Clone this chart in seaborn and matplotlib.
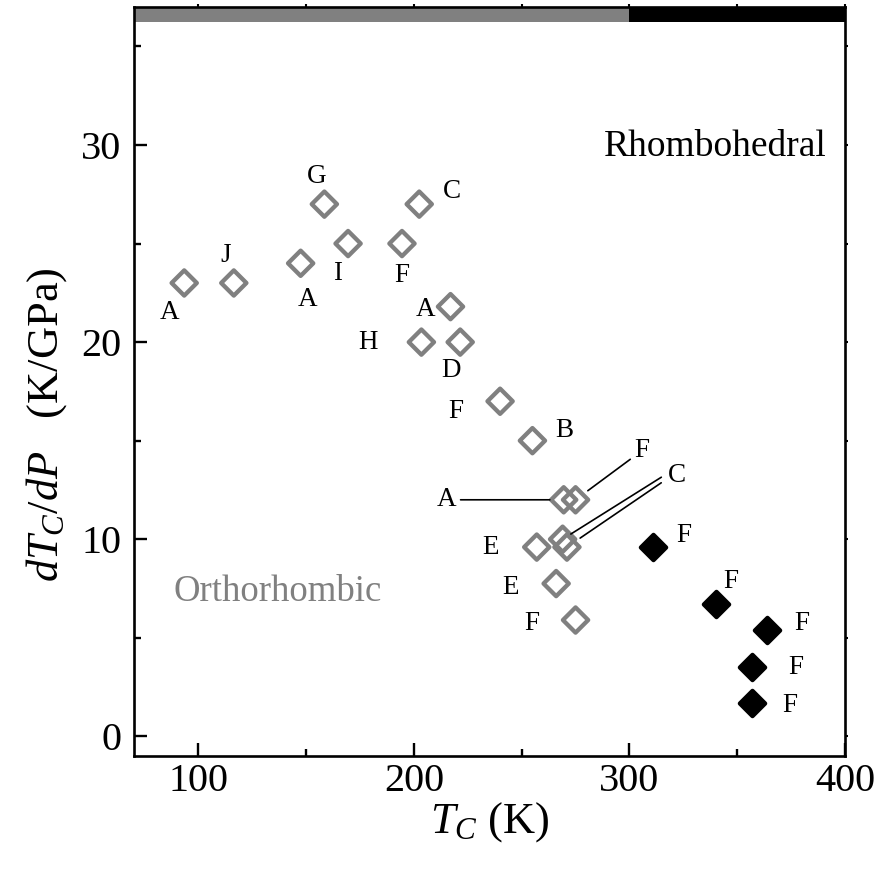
import matplotlib
matplotlib.use("Agg")
import matplotlib.pyplot as plt
import pandas as pd
import seaborn as sns

# Orthorhombic compounds (open diamonds): Curie temperature and pressure coefficient
ortho_tc = [93.5, 116.5, 147.5, 158.5, 169.5, 194.5, 202.5, 217.0, 203.5, 221.5,
            240.0, 255.0, 269.5, 275.0, 269.0, 271.0, 257.0, 266.0, 275.0]
ortho_slope = [23.0, 23.0, 24.0, 27.0, 25.0, 25.0, 27.0, 21.8, 20.0, 20.0,
               17.0, 15.0, 12.0, 12.0, 10.0, 9.6, 9.6, 7.75, 5.9]
ortho_ref = ["A", "J", "A", "G", "I", "F", "C", "A", "H", "D",
             "F", "B", "A", "F", "C", "C", "E", "E", "F"]

# Rhombohedral compounds (filled diamonds)
rhombo_tc = [311.0, 340.0, 364.0, 357.0, 357.0]
rhombo_slope = [9.6, 6.7, 5.4, 3.5, 1.7]
rhombo_ref = ["F", "F", "F", "F", "F"]

x_ticks = [100, 200, 300, 400]
y_ticks = [0, 10, 20, 30]
phase_boundary_tc = 300

GRAY = "#808080"

sns.set_theme(style="white")
plt.rcParams["font.family"] = ["Liberation Serif", "DejaVu Serif"]
plt.rcParams["mathtext.fontset"] = "custom"
plt.rcParams["mathtext.rm"] = "Liberation Serif"
plt.rcParams["mathtext.it"] = "Liberation Serif:italic"
plt.rcParams["mathtext.bf"] = "Liberation Serif:bold"
for key in ("text.color", "axes.labelcolor", "xtick.color", "ytick.color"):
    plt.rcParams[key] = "black"

ortho = pd.DataFrame({"Tc": ortho_tc, "slope": ortho_slope, "ref": ortho_ref})
rhombo = pd.DataFrame({"Tc": rhombo_tc, "slope": rhombo_slope, "ref": rhombo_ref})

fig = plt.figure(figsize=(8.78, 8.69), dpi=100)
ax = fig.add_axes([0.1521, 0.1300, 0.8104, 0.8619])

xmin, xmax = 70, 400
ymin, ymax = -1, 37
ax.set_xlim(xmin, xmax)
ax.set_ylim(ymin, ymax)

# phase bar along the top edge
bar_bottom = 36.24
ax.fill_between([xmin, phase_boundary_tc], bar_bottom, ymax, color=GRAY, lw=0, zorder=1)
ax.fill_between([phase_boundary_tc, xmax], bar_bottom, ymax, color="black", lw=0, zorder=1)

sns.scatterplot(data=ortho, x="Tc", y="slope", ax=ax, marker="D", s=165,
                facecolor="none", edgecolor=GRAY, linewidth=3.1, zorder=3, legend=False)
sns.scatterplot(data=rhombo, x="Tc", y="slope", ax=ax, marker="D", s=165,
                color="black", edgecolor="black", linewidth=3.1, zorder=3, legend=False)

lab_fs = 19.5
# text offsets in pixels from each marker
ortho_offsets = [(-15, -30), (-8, 27), (7, -36), (-8, 28), (-11, -30), (0, -32),
                 (33, 13), (-25, -3), (-53, 0), (-9, -28), (-44, -10), (32, 10),
                 None, None, None, None, (-46, 0), (-46, -4), (-44, -3)]
rhombo_offsets = [(31, 12), (15, 23), (34, 6), (43, 0), (37, -3)]

for tc, sl, ref, off in zip(ortho_tc, ortho_slope, ortho_ref, ortho_offsets):
    if off is None:
        continue
    ax.annotate(ref, (tc, sl), xytext=off, textcoords="offset pixels",
                ha="center", va="center", fontsize=lab_fs, zorder=4)
for tc, sl, ref, off in zip(rhombo_tc, rhombo_slope, rhombo_ref, rhombo_offsets):
    ax.annotate(ref, (tc, sl), xytext=off, textcoords="offset pixels",
                ha="center", va="center", fontsize=lab_fs, zorder=4)

lead = dict(arrowstyle="-", color="black", lw=1.2)
# crowded points near 270 K get leader lines
ax.annotate(ortho_ref[12], (ortho_tc[12], ortho_slope[12]), xytext=(-117.6, 0),
            textcoords="offset pixels", ha="center", va="center", fontsize=lab_fs,
            arrowprops=dict(lead, shrinkA=1, shrinkB=10))
ax.annotate(ortho_ref[13], (ortho_tc[13], ortho_slope[13]), xytext=(66.6, 49.3),
            textcoords="offset pixels", ha="center", va="center", fontsize=lab_fs,
            arrowprops=dict(lead, shrinkA=1, shrinkB=11))
ax.annotate(ortho_ref[14], (ortho_tc[14], ortho_slope[14]), xytext=(114.4, 63.3),
            textcoords="offset pixels", ha="center", va="center", fontsize=lab_fs)
ax.annotate("", (ortho_tc[14], ortho_slope[14]), xytext=(98.7, 62),
            textcoords="offset pixels", arrowprops=dict(lead, shrinkA=0, shrinkB=7))
ax.annotate("", (ortho_tc[15], ortho_slope[15]), xytext=(94.3, 64.3),
            textcoords="offset pixels", arrowprops=dict(lead, shrinkA=0, shrinkB=11.5))

# phase names
ax.text(0.974, 0.801, "Rhombohedral", transform=ax.transAxes, ha="right",
        va="baseline", fontsize=27, color="black")
ax.text(0.056, 0.207, "Orthorhombic", transform=ax.transAxes, ha="left",
        va="baseline", fontsize=26.5, color=GRAY)

# axes styling
for sp in ax.spines.values():
    sp.set_visible(True)
    sp.set_linewidth(1.9)
    sp.set_color("black")
    sp.set_zorder(5)

ax.set_xticks(x_ticks)
ax.set_yticks(y_ticks)
ax.set_xticks([150, 250, 350], minor=True)
ax.set_yticks([5, 15, 25, 35], minor=True)
ax.tick_params(which="major", direction="in", length=9.5, width=1.7,
               labelsize=29, left=True, bottom=True, top=False, right=False)
ax.tick_params(which="minor", direction="in", length=5, width=1.7,
               left=True, bottom=True, top=False, right=False)
ax.tick_params(axis="x", pad=5)
ax.tick_params(axis="y", pad=9)

sec_x = ax.secondary_xaxis("top")
sec_x.set_xticks(x_ticks + [150, 250, 350])
sec_x.tick_params(direction="out", length=2, width=1.5, labeltop=False)
sec_x.spines["top"].set_visible(False)
sec_y = ax.secondary_yaxis("right")
sec_y.set_yticks(y_ticks + [5, 15, 25, 35])
sec_y.tick_params(direction="out", length=2, width=1.5, labelright=False)
sec_y.spines["right"].set_visible(False)

ax.set_xlabel(r"$T_C$ (K)", fontsize=32, labelpad=0)
ax.set_ylabel(r"$dT_C/dP$   (K/GPa)", fontsize=32, va="center")
ax.yaxis.set_label_coords(-0.123, 0.442)

fig.savefig("out.png", dpi=100)
